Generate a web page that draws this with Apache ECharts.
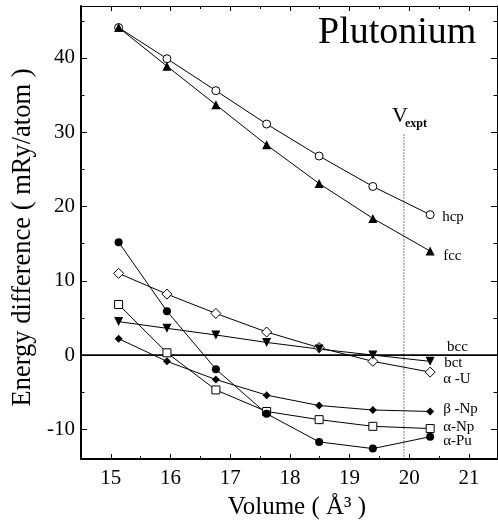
<!DOCTYPE html>
<html><head><meta charset="utf-8">
<script src="https://cdn.jsdelivr.net/npm/echarts@6/dist/echarts.min.js"></script>
<style>html,body{margin:0;padding:0;background:#fff}#c{width:498px;height:527px}</style>
</head><body><div id="c"></div>
<script>
const volume = [15.13, 15.94, 16.76, 17.61, 18.49, 19.39, 20.35];
const hcp = [44.1, 39.9, 35.6, 31.1, 26.8, 22.7, 18.9];
const fcc = [44.1, 38.9, 33.7, 28.3, 23.1, 18.4, 14.0];
const alphaU = [11.0, 8.2, 5.6, 3.1, 1.0, -0.85, -2.3];
const bct = [4.5, 3.6, 2.7, 1.7, 0.8, 0.0, -0.85];
const betaNp = [2.2, -0.85, -3.3, -5.4, -6.8, -7.4, -7.6];
const alphaNp = [6.8, 0.3, -4.7, -7.6, -8.7, -9.6, -9.9];
const alphaPu = [15.2, 5.9, -1.9, -7.9, -11.7, -12.6, -11.0];
const bccLine = [[14.5, 0], [21.47, 0]];
const vExpt = [[19.91, 29.7], [19.91, -14]];
const xLabels = [15, 16, 17, 18, 19, 20, 21];
const xMinor = [15.5, 16.5, 17.5, 18.5, 19.5, 20.5];
const yLabels = [-10, 0, 10, 20, 30, 40];
const yMinor = [-5, 5, 15, 25, 35, 45];

const FONT = 'Liberation Serif';
const X_MIN = 14.5, X_MAX = 21.47, Y_MIN = -14, Y_MAX = 47;

function pts(arr) { return volume.map((v, i) => [v, arr[i]]); }

function xAx(pos, major, showLine, lineW, showLabel) {
  return {
    type: 'value', position: pos, min: X_MIN, max: X_MAX,
    axisLine: { show: showLine, onZero: false, lineStyle: { color: '#000', width: lineW } },
    axisTick: { show: true, inside: true, length: major ? 5 : 3, customValues: major ? xLabels : xMinor, lineStyle: { color: '#000', width: 1 } },
    axisLabel: { show: showLabel, customValues: xLabels, color: '#000', fontFamily: FONT, fontSize: 21, margin: 9 },
    splitLine: { show: false }
  };
}
function yAx(pos, major, showLine, lineW, showLabel) {
  return {
    type: 'value', position: pos, min: Y_MIN, max: Y_MAX,
    axisLine: { show: showLine, onZero: false, lineStyle: { color: '#000', width: lineW } },
    axisTick: { show: true, inside: true, length: major ? 6 : 3.5, customValues: major ? yLabels : yMinor, lineStyle: { color: '#000', width: 1 } },
    axisLabel: { show: showLabel, customValues: yLabels, color: '#000', fontFamily: FONT, fontSize: 21, margin: 6 },
    splitLine: { show: false }
  };
}

const xAxes = [xAx('bottom', true, true, 2, true), xAx('bottom', false, false, 1, false), xAx('top', true, true, 1, false), xAx('top', false, false, 1, false)];
xAxes[0].name = 'Volume ( Å³ )';
xAxes[0].nameLocation = 'middle';
xAxes[0].nameGap = 36;
xAxes[0].nameTextStyle = { color: '#000', fontFamily: FONT, fontSize: 25, padding: [0, 0, 0, 16] };
const yAxes = [yAx('left', true, true, 2, true), yAx('left', false, false, 1, false), yAx('right', true, true, 1, false), yAx('right', false, false, 1, false)];
yAxes[0].name = 'Energy difference ( mRy/atom )';
yAxes[0].nameLocation = 'middle';
yAxes[0].nameGap = 43;
yAxes[0].nameRotate = 90;
yAxes[0].nameTextStyle = { color: '#000', fontFamily: FONT, fontSize: 26.5, padding: [0, 10, 0, 0] };

const labelStyle = { color: '#000', fontFamily: FONT, fontSize: 15 };

function ser(name, arr, symbol, size, open, offset, rotate) {
  return {
    name: name, type: 'line', data: pts(arr), symbol: symbol, symbolSize: size, symbolRotate: rotate || 0,
    showAllSymbol: true, animation: false,
    lineStyle: { color: '#000', width: 1 },
    itemStyle: open ? { color: '#fff', borderColor: '#000', borderWidth: 1 } : { color: '#000', borderColor: '#000', borderWidth: 0 },
    endLabel: Object.assign({ show: true, formatter: name, offset: offset, distance: 5 }, labelStyle),
    emphasis: { disabled: true }
  };
}

const chart = echarts.init(document.getElementById('c'), null, { renderer: 'canvas' });
chart.setOption({
  backgroundColor: '#fff',
  animation: false,
  grid: { left: 81, right: 1, top: 6, bottom: 68, containLabel: false },
  xAxis: xAxes,
  yAxis: yAxes,
  series: [
    { name: 'bcc', type: 'line', data: bccLine, symbol: 'none', lineStyle: { color: '#000', width: 1.8 },
      endLabel: Object.assign({ show: true, formatter: 'bcc', offset: [-58, -8] }, labelStyle), emphasis: { disabled: true } },
    { name: 'vexpt', type: 'line', data: vExpt, symbol: 'none', lineStyle: { color: '#000', width: 1, type: [1, 2] }, emphasis: { disabled: true } },
    ser('hcp', hcp, 'circle', 8, true, [7, 2]),
    ser('fcc', fcc, 'triangle', 9, false, [8, 5]),
    ser('α -U', alphaU, 'diamond', 10, true, [8, 7]),
    ser('bct', bct, 'triangle', 9, false, [9, 2], 180),
    ser('β -Np', betaNp, 'diamond', 8, false, [8, -2]),
    ser('α-Np', alphaNp, 'rect', 8, true, [8, -1]),
    ser('α-Pu', alphaPu, 'circle', 8, false, [8, 4])
  ],
  graphic: [
    { type: 'text', left: 318, top: 14, style: { text: 'Plutonium', fill: '#000', font: '38px "Liberation Serif"' } },
    { type: 'text', left: 392, top: 105, style: { text: 'V', fill: '#000', font: '22px "Liberation Serif"' } },
    { type: 'text', left: 405, top: 118, style: { text: 'expt', fill: '#000', font: 'bold 12px "Liberation Serif"' } }
  ]
});
</script></body></html>
